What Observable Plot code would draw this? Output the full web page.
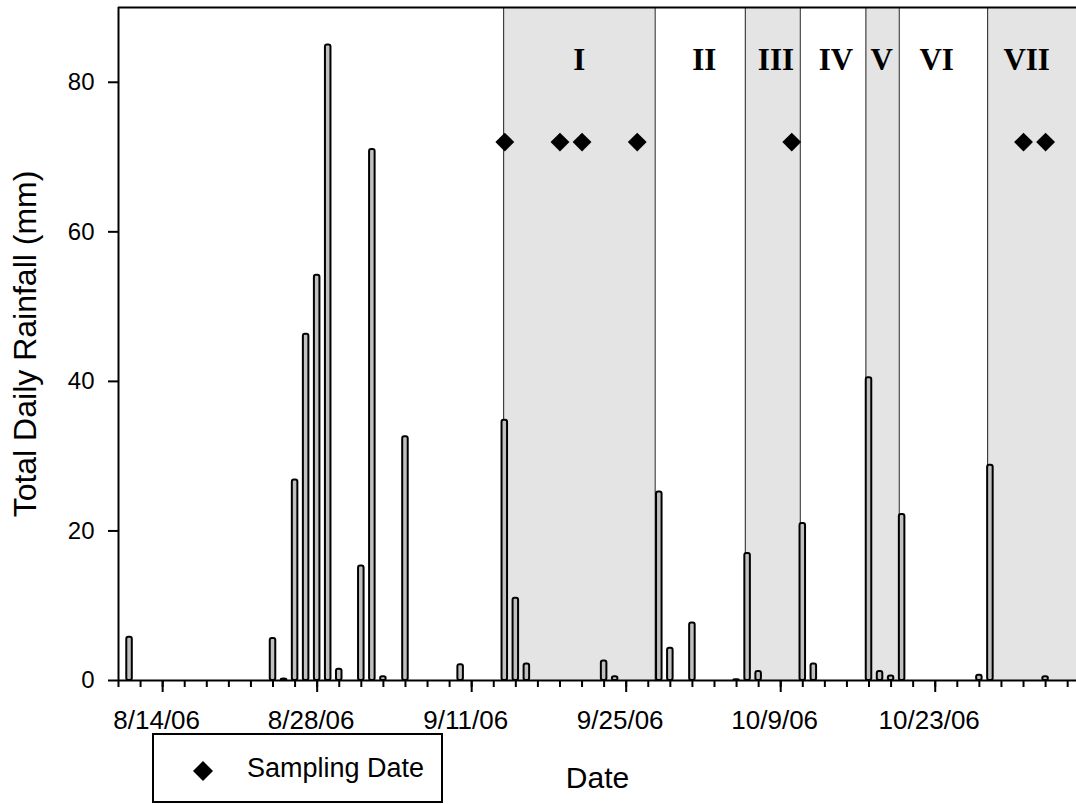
<!DOCTYPE html>
<html><head><meta charset="utf-8">
<script src="https://cdn.jsdelivr.net/npm/d3@7"></script>
<script src="https://cdn.jsdelivr.net/npm/@observablehq/plot@0.6"></script>
<style>
body{margin:0;background:#fff;}
#wrap{position:relative;width:1076px;height:804px;overflow:hidden;background:#fff;}
#legend{position:absolute;left:152px;top:733px;width:287px;height:66px;border:2px solid #000;background:#fff;font-family:"Liberation Sans",Arial,sans-serif;font-size:27px;color:#000;}
#legend svg{position:absolute;left:39px;top:26px;}
#legend span{position:absolute;left:93px;top:20px;line-height:27px;white-space:nowrap;}
</style></head><body><div id="wrap"></div>
<script>
// ---- data ----
const rainDates = ["2006-08-11","2006-08-24","2006-08-25","2006-08-26","2006-08-27","2006-08-28","2006-08-29","2006-08-30",
  "2006-09-01","2006-09-02","2006-09-03","2006-09-05","2006-09-10","2006-09-14","2006-09-15","2006-09-16",
  "2006-09-23","2006-09-24","2006-09-28","2006-09-29","2006-10-01","2006-10-05","2006-10-06","2006-10-07",
  "2006-10-11","2006-10-12","2006-10-17","2006-10-18","2006-10-19","2006-10-20","2006-10-27","2006-10-28","2006-11-02"];
const rainValues = [5.8,5.6,0.2,26.8,46.3,54.2,85.0,1.5,
  15.3,71.0,0.5,32.6,2.1,34.8,11.0,2.2,
  2.6,0.5,25.2,4.3,7.7,0.1,17.0,1.2,
  21.0,2.2,40.5,1.2,0.6,22.2,0.7,28.8,0.5];
const samplingDates = ["2006-09-14","2006-09-19","2006-09-21","2006-09-26","2006-10-10","2006-10-31","2006-11-02"];
const samplingLevel = 72;
const periodNames = ["I","II","III","IV","V","VI","VII"];
const periodStarts = ["2006-09-13T21:30Z","2006-09-27T15:00Z","2006-10-05T19:00Z","2006-10-10T18:30Z","2006-10-16T17:15Z","2006-10-19T17:45Z","2006-10-27T18:00Z"];
const periodLabelDates = ["2006-09-20T18:00Z","2006-10-02T01:40Z","2006-10-08T13:40Z","2006-10-14T00:00Z","2006-10-18T03:20Z","2006-10-23T03:10Z","2006-10-31T06:45Z"];
const majorTickDates = ["2006-08-14","2006-08-28","2006-09-11","2006-09-25","2006-10-09","2006-10-23"];
const yTicks = [0,20,40,60,80];
const xStart = new Date(Date.UTC(2006,7,10));
const xEnd = new Date(Date.UTC(2006,10,4,19,12));
const yMax = 90;

// ---- build ----
const DAY = 864e5;
const rain = rainDates.map((d,i)=>({date:new Date(d), value:rainValues[i]}));
const periods = periodNames.map((n,i)=>({
  name:n, start:new Date(periodStarts[i]),
  end: i < periodNames.length-1 ? new Date(periodStarts[i+1]) : xEnd,
  label:new Date(periodLabelDates[i]), shaded: i%2===0
}));
const minorTicks = d3.utcDay.range(xStart, xEnd, 2);
const majors = majorTickDates.map(d=>new Date(d));
const fmt = d3.utcFormat("%-m/%-d/%y");

const chart = Plot.plot({
  width:1076, height:804,
  marginLeft:118, marginRight:0, marginTop:7, marginBottom:124,
  style:{fontFamily:"'Liberation Sans', Arial, sans-serif", background:"#fff", color:"#000", overflow:"visible"},
  x:{type:"utc", domain:[xStart,xEnd]},
  y:{domain:[0,yMax]},
  marks:[
    Plot.rect(periods.filter(p=>p.shaded), {x1:"start", x2:"end", fill:"#e4e4e4"}),
    Plot.ruleX(periods, {x:"start", stroke:"#222", strokeWidth:1}),
    Plot.rectY(rain, {
      x1:d=>new Date(+d.date - 0.25*DAY), x2:d=>new Date(+d.date + 0.25*DAY),
      y:"value", fill:"#c0c0c0", stroke:"#000", strokeWidth:2, rx:2
    }),
    Plot.ruleY([0], {stroke:"#000", strokeWidth:2}),
    Plot.ruleY([yMax], {stroke:"#000", strokeWidth:2}),
    Plot.ruleX([xStart], {stroke:"#000", strokeWidth:2}),
    Plot.dot(samplingDates, {x:d=>new Date(d), y:()=>samplingLevel, symbol:"diamond2", r:8.5, fill:"#000", stroke:"none"}),
    Plot.text(periods, {x:"label", text:"name", frameAnchor:"top", dy:52.6, lineAnchor:"middle",
      fontFamily:"'Liberation Serif', 'Times New Roman', serif", fontWeight:"bold", fontSize:31, fill:"#000"}),
    Plot.axisX({ticks:minorTicks, tickSize:7, strokeWidth:2, tickFormat:()=>"", label:null}),
    Plot.axisX({ticks:majors, tickSize:12, strokeWidth:2, tickFormat:()=>"", label:null}),
    Plot.text(majors, {x:d=>d, text:d=>fmt(d), frameAnchor:"bottom", dy:40, dx:-6, lineAnchor:"middle", textAnchor:"middle", fontSize:26, fill:"#000"}),
    Plot.axisY({ticks:yTicks, tickSize:10, tickPadding:14, strokeWidth:2, fontSize:24, label:null}),
    Plot.text(["Total Daily Rainfall (mm)"], {frameAnchor:"left", dx:-93, rotate:-90, lineAnchor:"middle", textAnchor:"middle", fontSize:32, fill:"#000"}),
    Plot.text(["Date"], {frameAnchor:"bottom", dy:97.4, lineAnchor:"middle", textAnchor:"middle", fontSize:30, fill:"#000"})
  ]
});
const wrap = document.getElementById("wrap");
wrap.appendChild(chart);
const legend = document.createElement("div");
legend.id = "legend";
legend.innerHTML = '<svg width="20" height="20" viewBox="0 0 20 20"><polygon points="10,0 20,10 10,20 0,10" fill="#000"/></svg><span>Sampling Date</span>';
wrap.appendChild(legend);
</script>
</body></html>
